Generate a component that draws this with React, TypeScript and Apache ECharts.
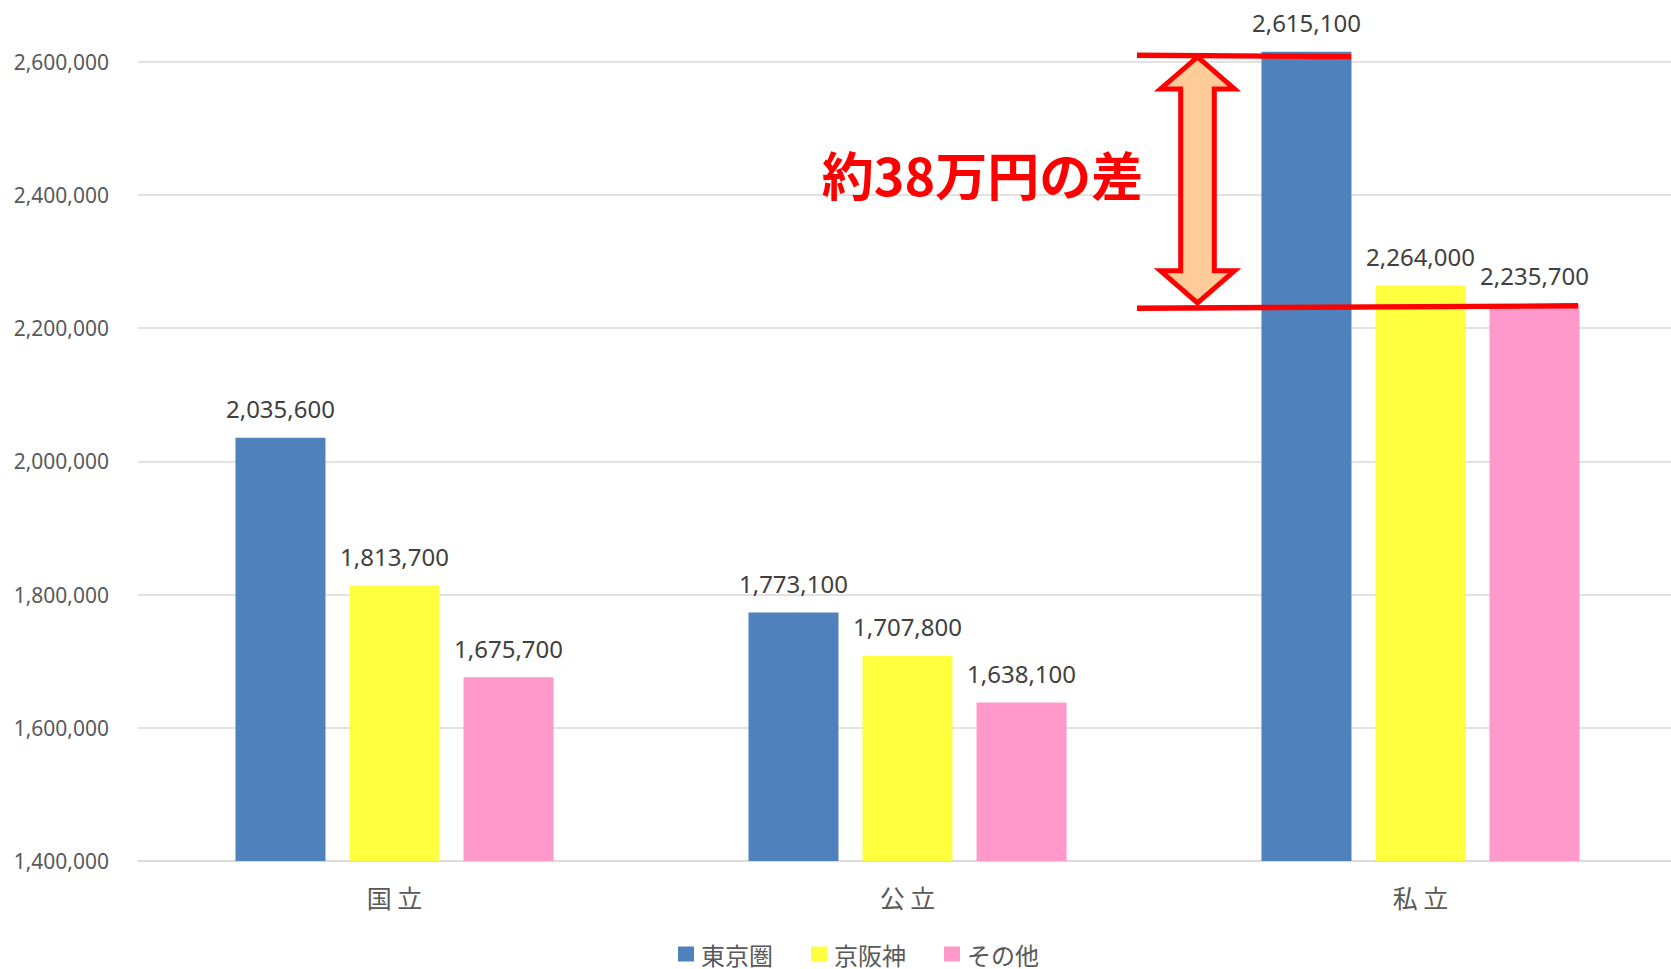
import React, { useEffect, useRef } from "react";
import * as echarts from "echarts";

const categories = ["国 立", "公 立", "私 立"];
const seriesNames = ["東京圏", "京阪神", "その他"];
const tokyoValues = [2035600, 1773100, 2615100];
const keihanshinValues = [1813700, 1707800, 2264000];
const otherValues = [1675700, 1638100, 2235700];
const seriesColors = ["#4F81BD", "#FFFF40", "#FF99CC"];
const annotationText = "約38万円の差";

const W = 1671;
const H = 969;
const NUM_FONT = "'Noto Sans', 'Noto Sans CJK JP', sans-serif";
const JP_FONT = "'Noto Sans CJK JP', 'Noto Sans', sans-serif";

const fmt = (v: number) => v.toLocaleString("en-US");

export default function App() {
  const ref = useRef<HTMLDivElement>(null);

  useEffect(() => {
    document.body.style.margin = "0";
    if (!ref.current) return;
    const chart = echarts.init(ref.current, null, { renderer: "svg", width: W, height: H });

    const values = [tokyoValues, keihanshinValues, otherValues];
    const series = values.map((data, i) => ({
      name: seriesNames[i],
      type: "bar",
      data,
      barWidth: 90,
      barGap: "26.7%",
      itemStyle: { color: seriesColors[i] },
      label: {
        show: true,
        position: "top",
        distance: 17,
        fontSize: 24,
        color: "#404040",
        fontFamily: NUM_FONT,
        formatter: (p: any) => fmt(p.value),
      },
    }));

    chart.setOption({
      animation: false,
      backgroundColor: "#ffffff",
      grid: {
        left: 138,
        right: -6,
        top: -71.5,
        bottom: 108,
        containLabel: false,
        outerBoundsMode: "none",
      },
      legend: {
        data: seriesNames,
        left: 673,
        top: 937,
        icon: "rect",
        itemWidth: 16,
        itemHeight: 15,
        itemGap: 38,
        textStyle: { fontSize: 24, lineHeight: 22, color: "#595959", fontFamily: JP_FONT, padding: [0, 0, 0, 2] },
      },
      xAxis: {
        type: "category",
        data: categories,
        axisTick: { show: false },
        axisLine: { lineStyle: { color: "#D9D9D9", width: 1.5 } },
        axisLabel: { fontSize: 25, color: "#595959", fontFamily: JP_FONT, margin: 23 },
      },
      yAxis: {
        type: "value",
        min: 1400000,
        max: 2800000,
        interval: 200000,
        axisLine: { show: false },
        axisTick: { show: false },
        splitLine: { lineStyle: { color: "#D9D9D9", width: 1.5 } },
        axisLabel: {
          fontSize: 21,
          color: "#595959",
          fontFamily: NUM_FONT,
          margin: 29,
          showMaxLabel: false,
          formatter: (v: number) => fmt(v),
        },
      },
      series,
    });

    // Annotation positioned from the data values
    const yTop = chart.convertToPixel({ yAxisIndex: 0 }, tokyoValues[2]) as number;
    const yBot = chart.convertToPixel({ yAxisIndex: 0 }, otherValues[2]) as number;
    const lineLeft = 1137;
    const topRight = 1351;
    const botRight = 1578;
    const ax = 1197.5;
    const tipTop = yTop + 5.3;
    const tipBot = yBot - 1.5;
    const headH = 32;
    const headHalf = 37;
    const shaftHalf = 16.8;
    const arrowPts = [
      [ax, tipTop],
      [ax + headHalf, tipTop + headH],
      [ax + shaftHalf, tipTop + headH],
      [ax + shaftHalf, tipBot - headH],
      [ax + headHalf, tipBot - headH],
      [ax, tipBot],
      [ax - headHalf, tipBot - headH],
      [ax - shaftHalf, tipBot - headH],
      [ax - shaftHalf, tipTop + headH],
      [ax - headHalf, tipTop + headH],
    ];

    chart.setOption({
      graphic: [
        {
          type: "line",
          z: 100,
          shape: { x1: lineLeft, y1: yTop + 3.6, x2: topRight, y2: yTop + 5 },
          style: { stroke: "#FF0000", lineWidth: 5.3 },
        },
        {
          type: "line",
          z: 100,
          shape: { x1: lineLeft, y1: yBot + 3.9, x2: botRight, y2: yBot + 1.4 },
          style: { stroke: "#FF0000", lineWidth: 5.3 },
        },
        {
          type: "polygon",
          z: 101,
          shape: { points: arrowPts },
          style: { fill: "#FFCC99", stroke: "#FF0000", lineWidth: 5, lineJoin: "miter", miterLimit: 10 },
        },
        {
          type: "text",
          z: 102,
          x: 982.5,
          y: 173,
          style: {
            text: annotationText,
            fill: "#FF0000",
            fontSize: 52,
            fontWeight: "bold",
            fontFamily: JP_FONT,
            align: "center",
            verticalAlign: "middle",
          },
        },
      ],
    });

    return () => {
      chart.dispose();
    };
  }, []);

  return <div ref={ref} style={{ width: W, height: H }} />;
}
